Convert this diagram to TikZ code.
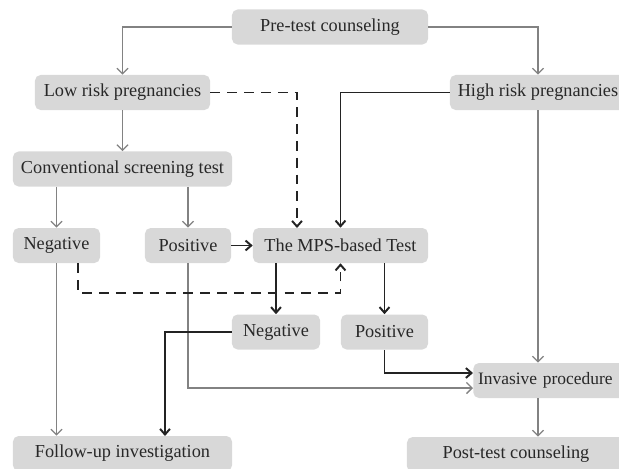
\documentclass[tikz,border=0pt]{standalone}
\usepackage{fontspec}
\setmainfont{Liberation Serif}
\usetikzlibrary{arrows.meta}

\definecolor{boxgray}{RGB}{216,216,216}
\definecolor{textgray}{RGB}{40,40,40}
\definecolor{linegray}{RGB}{130,130,130}
\definecolor{linedark}{RGB}{35,35,35}

\tikzset{
  box/.style={rounded corners=4pt, fill=boxgray, text=textgray, minimum height=0.875cm,
    inner sep=0pt, font=\fontsize{13}{15}\selectfont},
  thin arrow/.style={draw=linegray, line width=0.9pt, -{Straight Barb[length=4pt, width=8pt]}},
  thick arrow/.style={draw=linedark, line width=1.4pt, -{Straight Barb[length=4pt, width=7pt]}},
  dash arrow/.style={thick arrow, dash pattern=on 7pt off 5pt}
}

\begin{document}
\begin{tikzpicture}[x=0.025cm, y=-0.025cm]
\useasboundingbox (0, 0) rectangle (619, 468);

\node[box, minimum width=4.9cm] at (330, 27) (pre) {Pre-test counseling};
\node[box, minimum width=4.375cm] at (122.5, 92.5) (low) {Low risk pregnancies};
\node[box, minimum width=4.4cm] at (538, 92.5) (high) {High risk pregnancies};
\node[box, minimum width=5.475cm] at (122.5, 169) (conv) {Conventional screening test};
\node[box, minimum width=2.175cm] at (56.5, 245.5) (negL) {Negative};
\node[box, minimum width=2.15cm] at (188, 245.5) (posL) {Positive};
\node[box, minimum width=4.375cm] at (340.5, 245.5) (mps) {The MPS-based Test};
\node[box, minimum width=2.2cm] at (276, 332) (negM) {Negative};
\node[box, minimum width=2.175cm] at (384.5, 332) (posM) {Positive};
\node[box, text width=4cm, align=left, anchor=west, font=\fontsize{12.4}{15}\selectfont] at (473, 380.5) (inv) {\hspace*{0.12cm}Invasive procedure};
\node[box, minimum width=5.475cm] at (122.5, 453.5) (follow) {Follow-up investigation};
\node[box, minimum width=5.45cm] at (516, 454.5) (post) {Post-test counseling};

\coordinate (lowin) at (297, 228);
\coordinate (negdash) at (78, 293);
\coordinate (fupin) at (165, 436);
\coordinate (invlow) at (473, 388);
\coordinate (invhigh) at (473, 373);

% grey connectors
\draw[thin arrow] (pre.west) -| (low.north);
\draw[thin arrow] (pre.east) -| (high.north);
\draw[thin arrow] (low) -- (conv);
\draw[thin arrow] (conv.south -| negL) -- (negL.north);
\draw[thin arrow] (conv.south -| posL) -- (posL.north);
\draw[thin arrow] (negL.south) -- (negL.south |- follow.north);
\draw[thin arrow] (posL.south) |- (invlow);
\draw[thin arrow] (high.south) -- (high.south |- inv.north);
\draw[thin arrow] (inv.south -| high) -- (post.north -| high);

% dark connectors
\draw[thick arrow] (high.west) -| (mps.north);
\draw[thick arrow] (posL) -- (mps);
\draw[thick arrow] (mps.south -| negM) -- (negM.north);
\draw[thick arrow] (mps.south -| posM) -- (posM.north);
\draw[thick arrow] (negM.west) -| (fupin);
\draw[thick arrow] (posM.south) |- (invhigh);

% dashed connectors
\draw[dash arrow] (low.east) -| (lowin);
\draw[dash arrow] (negL.south -| negdash) -- (negdash) -| (mps.south);
\end{tikzpicture}
\end{document}
